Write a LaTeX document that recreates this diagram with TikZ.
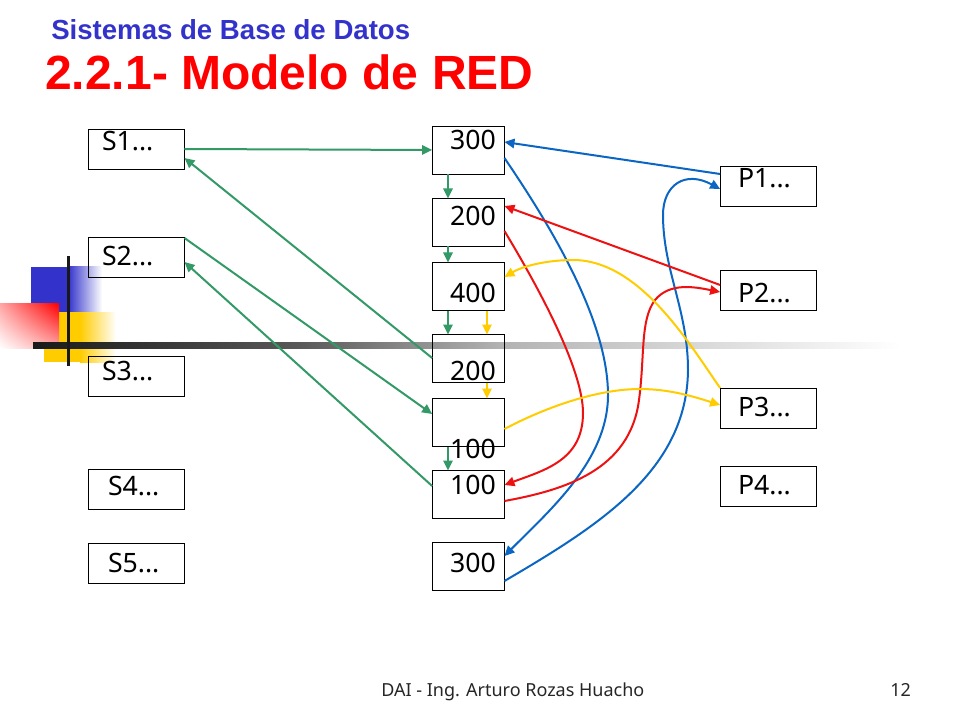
\documentclass[tikz,border=0pt]{standalone}
\usepackage{fontspec}
\setmainfont{Noto Sans}
\newfontfamily\titlefont{Liberation Sans}
\usetikzlibrary{arrows.meta,shadings}
\definecolor{cgreen}{HTML}{339966}
\definecolor{cblue}{HTML}{0A66C2}
\definecolor{cred}{HTML}{EE1111}
\definecolor{cyel}{HTML}{FFCC00}
\definecolor{dblue}{HTML}{3333CC}
\tikzset{
 sbox/.style={draw=black,line width=.75pt,minimum width=72.25pt,minimum height=30pt,inner sep=0pt,outer sep=0pt},
 mbox/.style={draw=black,line width=.75pt,minimum width=54.25pt,minimum height=36pt,inner sep=0pt,outer sep=0pt},
 lbl/.style={anchor=base west,inner sep=0pt,outer sep=0pt,font=\fontsize{20}{22}\selectfont},
 conn/.style={line width=1.5pt,-{Triangle[length=7.5pt,width=7pt]}},
 gconn/.style={conn,draw=cgreen},
 bconn/.style={conn,draw=cblue},
 rconn/.style={conn,draw=cred},
 yconn/.style={conn,draw=cyel},
}
\begin{document}
\begin{tikzpicture}[x=.75pt,y=-.75pt]
\useasboundingbox (0,0) rectangle (960,720);
% decoration
\fill[fill=dblue] (31,267) rectangle (68,312);
\shade[left color=dblue,right color=white] (68,267) rectangle (102,312);
\fill[fill=cyel] (44,312) rectangle (80,362);
\shade[left color=cyel,right color=white] (80,312) rectangle (116,362);
\shade[lower left=white,upper right=red,lower right=white!65!red,upper left=white!65!red] (0,304) rectangle (59,348);
\shade[left color=black!90,right color=black!65] (33,342) rectangle (300,348);
\shade[left color=black!65,right color=black!30] (300,342) rectangle (500,348);
\shade[left color=black!30,right color=white] (500,342) rectangle (900,348);
\fill[fill=black!90] (66.5,256) rectangle (69.5,366);
% boxes
\node[sbox] (s1) at (136.3,149.5) {};
\node[sbox] (s2) at (136.3,257.5) {};
\node[sbox] (s3) at (136.3,376.5) {};
\node[sbox] (s4) at (136.3,489.5) {};
\node[sbox] (s5) at (136.3,563.5) {};
\node[mbox] (m1) at (468.3,150.5) {};
\node[mbox] (m2) at (468.3,222.5) {};
\node[mbox] (m3) at (468.3,286.5) {};
\node[mbox] (m4) at (468.3,358.5) {};
\node[mbox] (m5) at (468.3,422.5) {};
\node[mbox] (m6) at (468.3,494.5) {};
\node[mbox] (m7) at (468.3,566.5) {};
\node[sbox] (p1) at (768.3,186.5) {};
\node[sbox] (p2) at (768.3,290.5) {};
\node[sbox] (p3) at (768.3,408.5) {};
\node[sbox] (p4) at (768.3,486.5) {};
% labels
\node[lbl] (ts1) at (102,151) {S1...};
\node[lbl] (ts2) at (102,266) {S2...};
\node[lbl] (ts3) at (102,380) {S3...};
\node[lbl] (ts4) at (108,495) {S4...};
\node[lbl] (ts5) at (108,572) {S5...};
\node[lbl] (tm1) at (450,150) {300};
\node[lbl] (tm2) at (450,226) {200};
\node[lbl] (tm3) at (450,302) {400};
\node[lbl] (tm4) at (450,380) {200};
\node[lbl] (tm5) at (450,458) {100};
\node[lbl] (tm6) at (450,494) {100};
\node[lbl] (tm7) at (450,572) {300};
\node[lbl] (tp1) at (738,188) {P1...};
\node[lbl] (tp2) at (738,302) {P2...};
\node[lbl] (tp3) at (738,416) {P3...};
\node[lbl] (tp4) at (738,494) {P4...};
% titles
\node[anchor=base west,inner sep=0pt,text=dblue,font=\titlefont\bfseries\fontsize{20.7}{24}\selectfont] (t1) at (51,40) {Sistemas de Base de Datos};
\node[anchor=base west,inner sep=0pt,text=red,font=\titlefont\bfseries\fontsize{36}{40}\selectfont] (t2) at (45,90) {2.2.1- Modelo de RED};
\node[anchor=base west,inner sep=0pt,font=\fontsize{13.5}{16}\selectfont,text=black!85] (f1) at (381,696) {DAI - Ing. Arturo Rozas Huacho};
\node[anchor=base west,inner sep=0pt,font=\fontsize{13.5}{16}\selectfont,text=black!85] (f2) at (890,696) {12};
% green
\draw[gconn] (s1.east |- 0,149) -- (m1.west |- 0,150);
\draw[gconn] (m1.south -| 448,0) -- (m2.north -| 448,0);
\draw[gconn] (m2.south -| 448,0) -- (m3.north -| 448,0);
\draw[gconn] (m3.south -| 448,0) -- (m4.north -| 448,0);
\draw[gconn] (m5.south -| 448,0) -- (m6.north -| 448,0);
\draw[gconn] (m4.west |- 0,358) -- (s1.east |- 0,158);
\draw[gconn] (s2.east |- 0,238) -- (m5.west |- 0,414);
\draw[gconn] (m6.west |- 0,486) -- (s2.east |- 0,262);
% yellow short
\draw[yconn] (m3.south -| 487,0) -- (m4.north -| 487,0);
\draw[yconn] (m4.south -| 487,0) -- (m5.north -| 487,0);
% blue
\draw[bconn] (p1.west |- 0,174) -- (m1.east |- 0,142);
\draw[bconn] (m1.east |- 0,158) .. controls (550,225) and (608,320) .. (608,395) .. controls (608,460) and (550,510) .. (m7.east |- 0,556);
\draw[bconn] (m7.east |- 0,581) .. controls (600,525) and (687,470) .. (688,370) .. controls (688,310) and (663,270) .. (663,215) .. controls (663,185) and (685,170) .. (p1.west |- 0,189);
% red
\draw[rconn] (p2.west |- 0,285) -- (m2.east |- 0,206);
\draw[rconn] (m2.east |- 0,231) .. controls (540,290) and (583,370) .. (583,413) .. controls (583,460) and (545,470) .. (m6.east |- 0,485);
\draw[rconn] (m6.east |- 0,501) .. controls (565,490) and (630,470) .. (639,400) .. controls (645,355) and (640,320) .. (655,300) .. controls (670,282) and (695,287) .. (p2.west |- 0,292);
% yellow curves
\draw[yconn] (p3.west |- 0,388) .. controls (690,345) and (640,260) .. (573,260) .. controls (550,260) and (525,265) .. (m3.east |- 0,277);
\draw[yconn] (m5.east |- 0,429) .. controls (550,405) and (600,389) .. (640,389) .. controls (670,389) and (695,397) .. (p3.west |- 0,405);
\end{tikzpicture}
\end{document}
